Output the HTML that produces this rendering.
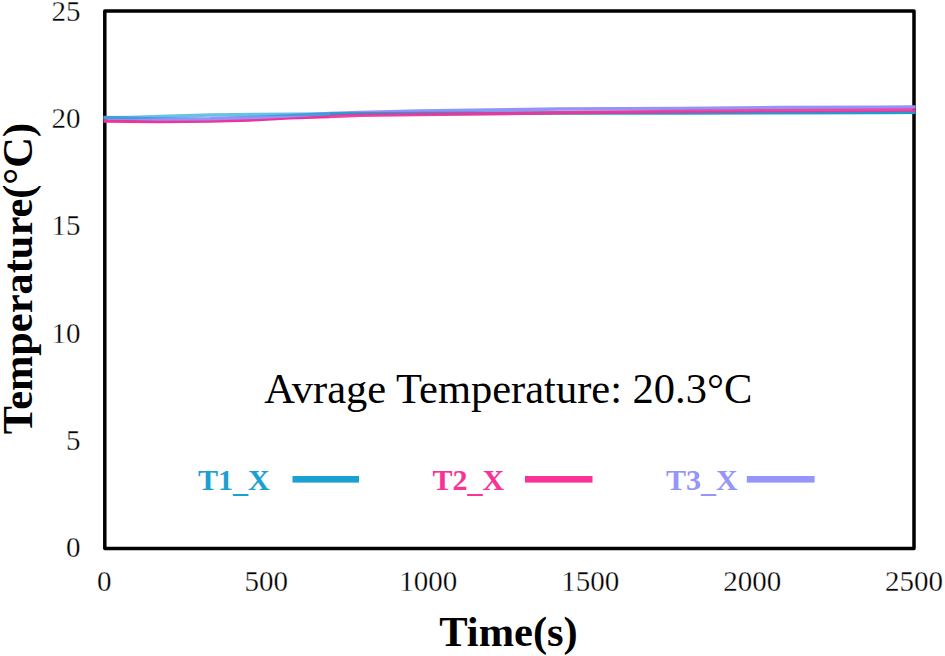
<!DOCTYPE html>
<html><head><meta charset="utf-8">
<style>
html,body{margin:0;padding:0;background:#fff;width:945px;height:656px;overflow:hidden}
svg{display:block}
text{font-family:"Liberation Serif",serif}
</style></head>
<body>
<svg width="945" height="656" viewBox="0 0 945 656">
<rect x="0" y="0" width="945" height="656" fill="#fff"/>
<!-- y tick labels -->
<g font-size="29" text-anchor="end" fill="#000" stroke="#fff" stroke-width="0.3">
<text x="80.6" y="21">25</text>
<text x="80.6" y="127.8">20</text>
<text x="80.6" y="235.3">15</text>
<text x="80.6" y="342.7">10</text>
<text x="80.6" y="450.2">5</text>
<text x="80.6" y="557.3">0</text>
</g>
<!-- x tick labels -->
<g font-size="29" text-anchor="middle" fill="#000" stroke="#fff" stroke-width="0.3">
<text x="104.2" y="591">0</text>
<text x="266.2" y="591">500</text>
<text x="428.2" y="591">1000</text>
<text x="590.2" y="591">1500</text>
<text x="752.2" y="591">2000</text>
<text x="914" y="591">2500</text>
</g>
<!-- titles -->
<text x="508.5" y="645.5" font-size="42.5" font-weight="bold" text-anchor="middle">Time(s)</text>
<text transform="translate(31.8,278.6) rotate(-90)" x="0" y="0" font-size="42.4" font-weight="bold" text-anchor="middle">Temperature(°C)</text>
<!-- annotation -->
<text x="508.3" y="402.5" font-size="42.5" text-anchor="middle">Avrage Temperature: 20.3°C</text>
<!-- frame -->
<rect x="104.8" y="11.1" width="809.2" height="537.3" fill="none" stroke="#000" stroke-width="3.5" stroke-linejoin="round"/>
<!-- data lines -->
<g fill="none" stroke-width="3.5" stroke-linejoin="round" stroke-linecap="butt">
<path stroke="#9393f8" d="M330,113.6 L360,112.4 L420,111 L490,110 L560,109 L680,108.4 L780,107.5 L880,107.2 L915.5,107"/>
<path stroke="#1ba0d2" d="M330,114 L420,113.6 L560,113.1 L680,113 L780,112.8 L880,112.4 L915.5,112.2"/>
<path stroke="#f03398" stroke-opacity="0.9" d="M330,116.4 L360,115.3 L420,114.6 L490,113.8 L560,112.8 L680,111.5 L780,110.7 L880,110.3 L915.5,110.1"/>
<path stroke="#f03398" d="M103.5,121 L130,121.3 L160,121.4 L210,121.1 L250,119.9 L290,117.8 L330,116.4"/>
<path stroke="#9393f8" d="M103.5,117.6 L130,118.3 L160,118.9 L210,118.8 L250,117.6 L290,115.7 L330,113.6"/>
<path stroke="#1ba0d2" stroke-opacity="0.65" d="M103.5,117.8 L130,117.4 L160,116.6 L210,115.1 L290,114.2 L330,114"/>
</g>
<!-- legend -->
<g font-size="30" font-weight="bold">
<text x="198" y="490.3" fill="#1ba0d2">T1<tspan dy="2">_</tspan><tspan dy="-2">X</tspan></text>
<rect x="292.5" y="476" width="66.5" height="6.6" fill="#1ba0d2"/>
<text x="432.5" y="490.3" fill="#f93296">T2<tspan dy="2">_</tspan><tspan dy="-2">X</tspan></text>
<rect x="525" y="476" width="67.5" height="6.6" fill="#f93296"/>
<text x="666" y="490.3" fill="#9696fa">T3<tspan dy="2">_</tspan><tspan dy="-2">X</tspan></text>
<rect x="746.8" y="476" width="67.8" height="6.6" fill="#9696fa"/>
</g>
</svg>
</body></html>
